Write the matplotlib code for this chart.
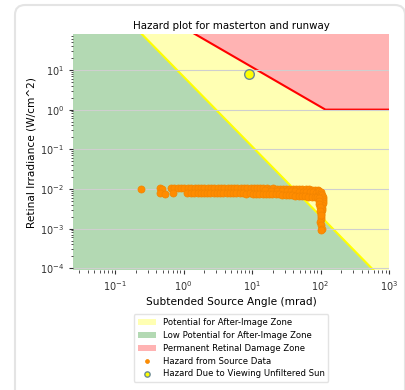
import matplotlib
matplotlib.use("Agg")
import matplotlib.pyplot as plt
from matplotlib.patches import FancyBboxPatch

# threshold lines (mrad, W/cm^2)
burn_x = [1.0, 118.0, 1000.0]
burn_y = [118.0, 1.0, 1.0]
after_x = [0.1, 1000.0]
after_y = [390.0, 3.6e-5]

# sun point
sun_x = [8.9]
sun_y = [7.8]

# source data, read row by row
lone_x = [0.24]
lone_y = [0.0100]

top_x = [0.45, 0.49, 0.66, 0.73, 0.82, 0.92, 1.03, 1.15, 1.3, 1.45,
         1.62, 1.8, 2.0, 2.25, 2.5, 2.8, 3.15, 3.5, 3.9, 4.4,
         4.9, 5.5, 6.1, 6.8, 7.6, 8.5, 9.5, 10.6, 11.8, 13.2,
         14.7, 16.4, 18.3, 20.4, 22.8, 25.4, 28.3, 31.6, 35.2, 39.3,
         43.8, 48.8, 54.4, 60.7, 67.7, 75.5, 84.2, 92]
top_y = [0.0106, 0.0102, 0.0104, 0.0105, 0.0105, 0.0106, 0.0104, 0.0105, 0.0106, 0.0105,
         0.0104, 0.0105, 0.0105, 0.0104, 0.0105, 0.0104, 0.0105, 0.0104, 0.0104, 0.0105,
         0.0104, 0.0104, 0.0103, 0.0104, 0.0104, 0.0103, 0.0104, 0.0103, 0.0103, 0.0104,
         0.0103, 0.0103, 0.0102, 0.0103, 0.0102, 0.0102, 0.0102, 0.0101, 0.0101, 0.0100,
         0.0100, 0.0099, 0.0099, 0.0098, 0.0097, 0.0096, 0.0095, 0.0094]

mid_x = [15.5, 19, 23, 27, 32, 37, 42, 48, 55, 62, 70, 78, 86, 94]
mid_y = [0.0092, 0.0091, 0.0090, 0.0090, 0.0089, 0.0088, 0.0087,
         0.0086, 0.0085, 0.0084, 0.0083, 0.0082, 0.0081, 0.0080]

low_x = [0.46, 0.53, 0.71, 1.12, 1.27, 1.42, 1.6, 1.78, 1.98, 2.2,
         2.45, 2.75, 3.05, 3.4, 3.8, 4.25, 4.75, 5.3, 5.9, 6.6,
         7.4, 8.2, 9.2, 10.3, 11.5, 12.8, 14.3, 16, 17.8, 19.9,
         22.2, 24.8, 27.7, 30.9, 34.5, 38.5, 43, 48, 53.5, 59.7,
         66.6, 74.3, 82.9, 90]
low_y = [0.0080, 0.0076, 0.0077, 0.0079, 0.0078, 0.0079, 0.0079, 0.0078, 0.0079, 0.0079,
         0.0078, 0.0079, 0.0078, 0.0078, 0.0078, 0.0078, 0.0077, 0.0078, 0.0077, 0.0077,
         0.0077, 0.0076, 0.0077, 0.0076, 0.0076, 0.0076, 0.0075, 0.0075, 0.0075, 0.0074,
         0.0074, 0.0073, 0.0072, 0.0071, 0.0070, 0.0069, 0.0068, 0.0067, 0.0066, 0.0065,
         0.0064, 0.0063, 0.0062, 0.0061]

tail_x = [96, 100, 103, 106, 108, 109, 108, 107, 106, 105, 104, 103, 102, 101, 100, 99,
          95, 94, 96, 97, 99, 100, 102, 104, 103]
tail_y = [0.0088, 0.0082, 0.0076, 0.0070, 0.0063, 0.0056, 0.0050, 0.0044, 0.0039, 0.0034,
          0.0030, 0.0026, 0.0023, 0.0020, 0.0017, 0.0015, 0.0060, 0.0050, 0.0042, 0.0035,
          0.0028, 0.0022, 0.0012, 0.0010, 0.0009]

src_x = lone_x + top_x + mid_x + low_x + tail_x
src_y = lone_y + top_y + mid_y + low_y + tail_y

xmin, xmax = 0.0243, 1000
ymin, ymax = 9.06e-5, 79.4

yellow_c = "#ffffb3"
green_c = "#b3d9b3"
red_c = "#ffb3b3"

fig = plt.figure(figsize=(4.06, 3.90), dpi=100)

# card outline around the chart
card = FancyBboxPatch((15 / 406, -0.2), 390 / 406, 1.2 - 5 / 390,
                      boxstyle="round,pad=0,rounding_size=0.025",
                      transform=fig.transFigure, facecolor="none",
                      edgecolor="#e4e4e4", linewidth=1.5, zorder=-1)
fig.patches.append(card)

ax = fig.add_axes([0.1798, 0.3077, 0.7783, 0.6044])
ax.set_xscale("log")
ax.set_yscale("log")

lo, hi = 1e-7, 1e5
ax.fill([1e-3, 1e-3, after_x[0], after_x[1], 1e4, 1e4],
        [hi, hi, after_y[0], after_y[1], after_y[1], lo], color=yellow_c, lw=0,
        label="Potential for After-Image Zone", zorder=0.5)
ax.fill([1e-3, 1e-3, after_x[0], after_x[1], 1e4],
        [lo, hi, after_y[0], after_y[1], lo], color=green_c, lw=0,
        label="Low Potential for After-Image Zone", zorder=0.6)
ax.fill([0.01, burn_x[0], burn_x[1], burn_x[2], 1e4, 1e4, 0.01],
        [11800, burn_y[0], burn_y[1], burn_y[2], burn_y[2], hi, hi], color=red_c, lw=0,
        label="Permanent Retinal Damage Zone", zorder=0.6)
ax.fill([1e-3, 1e4, 1e4, 1e-3], [lo, lo, hi, hi], color=yellow_c, lw=0, zorder=0.1)

ax.plot([0.01] + burn_x, [11800] + burn_y, color="red", lw=1.5, zorder=2)
ax.plot(after_x, after_y, color="yellow", lw=1.5, zorder=2)

ax.scatter(src_x, src_y, s=26, color="darkorange", edgecolor="#f28500",
           linewidth=0.5, zorder=3, label="Hazard from Source Data")
ax.scatter(sun_x, sun_y, s=48, facecolor="yellow", edgecolor="#6a8a96",
           linewidth=1.0, zorder=4, label="Hazard Due to Viewing Unfiltered Sun")

ax.set_xlim(xmin, xmax)
ax.set_ylim(ymin, ymax)
ax.grid(axis="y", which="major", color="#cfcfcf", lw=0.8)
ax.set_axisbelow(False)
for s in ax.spines.values():
    s.set_visible(False)
ax.tick_params(which="both", labelsize=7, colors="#333333")
ax.tick_params(which="major", length=3)
ax.tick_params(which="minor", length=1.8)

ax.set_title("Hazard plot for masterton and runway", fontsize=7.4, pad=4)
ax.set_xlabel("Subtended Source Angle (mrad)", fontsize=7.6, labelpad=3)
ax.set_ylabel("Retinal Irradiance (W/cm^2)", fontsize=7.6, labelpad=2)

handles, labels = ax.get_legend_handles_labels()
ax.legend(handles, labels, loc="upper center", bbox_to_anchor=(0.5, -0.17),
          fontsize=6.1, frameon=True, edgecolor="#dddddd", fancybox=True,
          markerscale=0.55, handlelength=2.15, handletextpad=0.8,
          labelspacing=0.45, borderpad=0.45)

fig.savefig("out.png", dpi=100)
